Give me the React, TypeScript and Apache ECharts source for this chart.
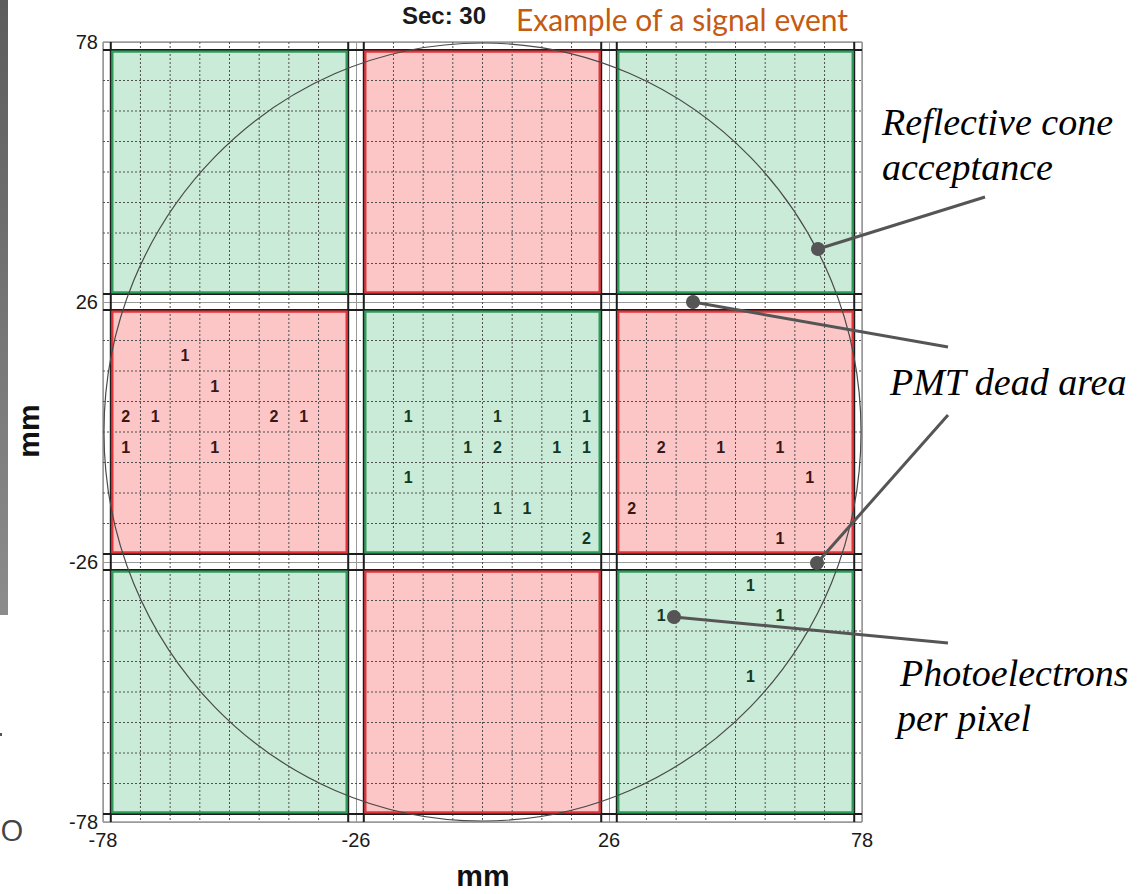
import React, { useEffect, useRef } from "react";
import * as echarts from "echarts";

// ---- axis ----
const AXIS_MIN = -78;
const AXIS_MAX = 78;
const AXIS_STEP = 52;

// ---- PMT tile geometry (mm) ----
const TILE_COL_CENTERS = [-52, 0, 52];
const TILE_ROW_CENTERS = [52, 0, -52]; // top to bottom
const TILE_HALF = 24.4;
const PIXEL_PITCH = 6.1;
const PIXELS_PER_SIDE = 8;
const TILE_KIND = [
  ["green", "red", "green"],
  ["red", "green", "red"],
  ["green", "red", "green"],
];
const CONE_RADIUS = 77.8;

// ---- photoelectrons per pixel: [pixelColumn, pixelRowFromTop, count] ----
const PE_MIDDLE_LEFT = [
  [2, 1, 1], [3, 2, 1], [0, 3, 2], [1, 3, 1], [5, 3, 2], [6, 3, 1], [0, 4, 1], [3, 4, 1],
];
const PE_CENTER = [
  [1, 3, 1], [4, 3, 1], [7, 3, 1], [3, 4, 1], [4, 4, 2], [6, 4, 1], [7, 4, 1],
  [1, 5, 1], [4, 6, 1], [5, 6, 1], [7, 7, 2],
];
const PE_MIDDLE_RIGHT = [
  [1, 4, 2], [3, 4, 1], [5, 4, 1], [6, 5, 1], [0, 6, 2], [5, 7, 1],
];
const PE_BOTTOM_RIGHT = [
  [4, 0, 1], [1, 1, 1], [5, 1, 1], [4, 3, 1],
];
const PE_TILES = [
  { col: 0, row: 1, hits: PE_MIDDLE_LEFT },
  { col: 1, row: 1, hits: PE_CENTER },
  { col: 2, row: 1, hits: PE_MIDDLE_RIGHT },
  { col: 2, row: 2, hits: PE_BOTTOM_RIGHT },
];

const RED_FILL = "#fcc6c6";
const GREEN_FILL = "#c9ebd7";
const RED_EDGE = "#e3343a";
const GREEN_EDGE = "#2f9c5a";
const SANS = '"Liberation Sans", Arial, sans-serif';
const SERIF_IT = 'italic 38px "Liberation Serif", "Times New Roman", serif';
const NOTE = "#555555";

function buildOption() {
  const tileData: number[][] = [];
  TILE_ROW_CENTERS.forEach((cy, r) =>
    TILE_COL_CENTERS.forEach((cx, c) => tileData.push([cx, cy, TILE_KIND[r][c] === "red" ? 1 : 0]))
  );

  const pixelPos: number[] = [];
  TILE_COL_CENTERS.forEach((c) => {
    for (let k = 1; k < PIXELS_PER_SIDE; k++) pixelPos.push(c - TILE_HALF + k * PIXEL_PITCH);
  });
  const framePos: number[] = [];
  TILE_COL_CENTERS.forEach((c) => framePos.push(c - TILE_HALF, c + TILE_HALF));

  const pixelLines: number[][] = [];
  pixelPos.forEach((p) => { pixelLines.push([p, 0]); pixelLines.push([p, 1]); });
  const frameLines: number[][] = [];
  framePos.forEach((p) => { frameLines.push([p, 0]); frameLines.push([p, 1]); });

  const hitData: number[][] = [];
  PE_TILES.forEach((t) => {
    const cx = TILE_COL_CENTERS[t.col];
    const cy = TILE_ROW_CENTERS[t.row];
    const red = TILE_KIND[t.row][t.col] === "red" ? 1 : 0;
    t.hits.forEach(([i, j, n]) => {
      hitData.push([
        cx - TILE_HALF + PIXEL_PITCH * (i + 0.5),
        cy + TILE_HALF - PIXEL_PITCH * (j + 0.5),
        n,
        red,
      ]);
    });
  });

  const lineRender = (color: string, width: number, dash: number[] | null) => (params: any, api: any) => {
    const pos = api.value(0);
    const horiz = api.value(1) === 1;
    const cs = params.coordSys;
    const style: any = { stroke: color, lineWidth: width };
    if (dash) style.lineDash = dash;
    if (horiz) {
      const y = api.coord([0, pos])[1];
      return { type: "line", shape: { x1: cs.x, y1: y, x2: cs.x + cs.width, y2: y }, style };
    }
    const x = api.coord([pos, 0])[0];
    return { type: "line", shape: { x1: x, y1: cs.y, x2: x, y2: cs.y + cs.height }, style };
  };

  const tileRect = (api: any, inset: number) => {
    const cx = api.value(0);
    const cy = api.value(1);
    const p0 = api.coord([cx - TILE_HALF, cy + TILE_HALF]);
    const p1 = api.coord([cx + TILE_HALF, cy - TILE_HALF]);
    return {
      x: p0[0] + inset,
      y: p0[1] + inset,
      width: p1[0] - p0[0] - 2 * inset,
      height: p1[1] - p0[1] - 2 * inset,
    };
  };

  const note = (x1: number, y1: number, x2: number, y2: number) => [
    { type: "line", shape: { x1, y1, x2, y2 }, style: { stroke: NOTE, lineWidth: 3 }, z: 10 },
    { type: "circle", shape: { cx: x2, cy: y2, r: 7 }, style: { fill: NOTE }, z: 11 },
  ];
  const txt = (text: string, x: number, y: number, font: string, fill: string, align = "left", extra: any = {}) => ({
    type: "text",
    x,
    y,
    z: 12,
    ...extra,
    style: { text, x: 0, y: 0, font, fill, align, textAlign: align, verticalAlign: "middle", textVerticalAlign: "middle" },
  });

  return {
    animation: false,
    grid: {
      left: 103,
      top: 42,
      width: 759,
      height: 780,
      show: true,
      borderColor: "#666",
      borderWidth: 1,
      backgroundColor: "#fff",
    },
    xAxis: {
      type: "value",
      min: AXIS_MIN,
      max: AXIS_MAX,
      interval: AXIS_STEP,
      axisLine: { show: false },
      axisTick: { show: false },
      splitLine: { show: true, lineStyle: { color: "#9a9a9a", width: 1 } },
      axisLabel: { fontSize: 20, color: "#1a1a1a", fontFamily: "Liberation Sans", margin: 8 },
    },
    yAxis: {
      type: "value",
      min: AXIS_MIN,
      max: AXIS_MAX,
      interval: AXIS_STEP,
      axisLine: { show: false },
      axisTick: { show: false },
      splitLine: { show: true, lineStyle: { color: "#9a9a9a", width: 1 } },
      axisLabel: { fontSize: 20, color: "#1a1a1a", fontFamily: "Liberation Sans", margin: 5 },
    },
    series: [
      {
        type: "custom",
        name: "tileFill",
        silent: true,
        z: 1,
        data: tileData,
        renderItem: (params: any, api: any) => ({
          type: "rect",
          shape: tileRect(api, 0),
          style: { fill: api.value(2) === 1 ? RED_FILL : GREEN_FILL },
        }),
      },
      {
        type: "custom",
        name: "pixelGrid",
        silent: true,
        z: 2,
        data: pixelLines,
        renderItem: lineRender("#505050", 1, [2, 2]),
      },
      {
        type: "custom",
        name: "frames",
        silent: true,
        z: 3,
        data: frameLines,
        renderItem: lineRender("#1c1c1c", 2, null),
      },
      {
        type: "custom",
        name: "tileEdge",
        silent: true,
        z: 4,
        data: tileData,
        renderItem: (params: any, api: any) => ({
          type: "rect",
          shape: tileRect(api, 1.6),
          style: { fill: "none", stroke: api.value(2) === 1 ? RED_EDGE : GREEN_EDGE, lineWidth: 2.2 },
        }),
      },
      {
        type: "custom",
        name: "cone",
        silent: true,
        z: 5,
        data: [[0, 0, CONE_RADIUS]],
        renderItem: (params: any, api: any) => {
          const c = api.coord([api.value(0), api.value(1)]);
          const s = api.size([api.value(2), api.value(2)]);
          return {
            type: "ellipse",
            shape: { cx: c[0], cy: c[1], rx: s[0], ry: s[1] },
            style: { fill: "none", stroke: "#4a4a4a", lineWidth: 1.2 },
          };
        },
      },
      {
        type: "custom",
        name: "photoelectrons",
        silent: true,
        z: 6,
        data: hitData,
        renderItem: (params: any, api: any) => {
          const c = api.coord([api.value(0), api.value(1)]);
          const fill = api.value(3) === 1 ? "#3a1616" : "#143822";
          return {
            type: "text",
            x: c[0],
            y: c[1],
            style: {
              text: String(api.value(2)),
              x: 0,
              y: 0,
              fontSize: 16,
              fontWeight: "bold",
              fontFamily: "Liberation Sans",
              fill,
              align: "center",
              verticalAlign: "middle",
            },
          };
        },
      },
    ],
    graphic: {
      elements: [
        {
          type: "rect",
          shape: { x: 0, y: 0, width: 8, height: 615 },
          style: {
            fill: new echarts.graphic.LinearGradient(0, 0, 0, 1, [
              { offset: 0, color: "#5c5c5c" },
              { offset: 1, color: "#8c8c8c" },
            ]),
          },
        },
        { type: "rect", shape: { x: 0, y: 733, width: 2, height: 3 }, style: { fill: "#555" } },
        txt("O", 12, 829, '30px "Open Sans", sans-serif', "#444", "center"),
        txt("Sec: 30", 402, 15, `bold 24px ${SANS}`, "#1a1a1a"),
        txt("Example of a signal event", 516, 19, '30px Lato, "Open Sans", sans-serif', "#c55a11"),
        txt("mm", 483, 875, `bold 30px ${SANS}`, "#111", "center"),
        txt("mm", 28, 431, `bold 30px ${SANS}`, "#111", "center", { rotation: Math.PI / 2 }),
        txt("Reflective cone", 882, 122, SERIF_IT, "#000"),
        txt("acceptance", 882, 167, SERIF_IT, "#000"),
        txt("PMT dead area", 890, 382, SERIF_IT, "#000"),
        txt("Photoelectrons", 900, 673, SERIF_IT, "#000"),
        txt("per pixel", 897, 718, SERIF_IT, "#000"),
        ...note(985, 197, 818, 249),
        ...note(948, 347, 693, 302),
        ...note(948, 415, 817, 563),
        ...note(948, 643, 674, 617),
      ],
    },
  };
}

export default function App() {
  const ref = useRef<HTMLDivElement>(null);
  useEffect(() => {
    if (!ref.current) return;
    const chart = echarts.init(ref.current, undefined, { renderer: "svg" });
    chart.setOption(buildOption() as any);
    return () => chart.dispose();
  }, []);
  return (
    <div
      ref={ref}
      style={{ position: "absolute", left: 0, top: 0, width: 1141, height: 894, background: "#fff" }}
    />
  );
}
